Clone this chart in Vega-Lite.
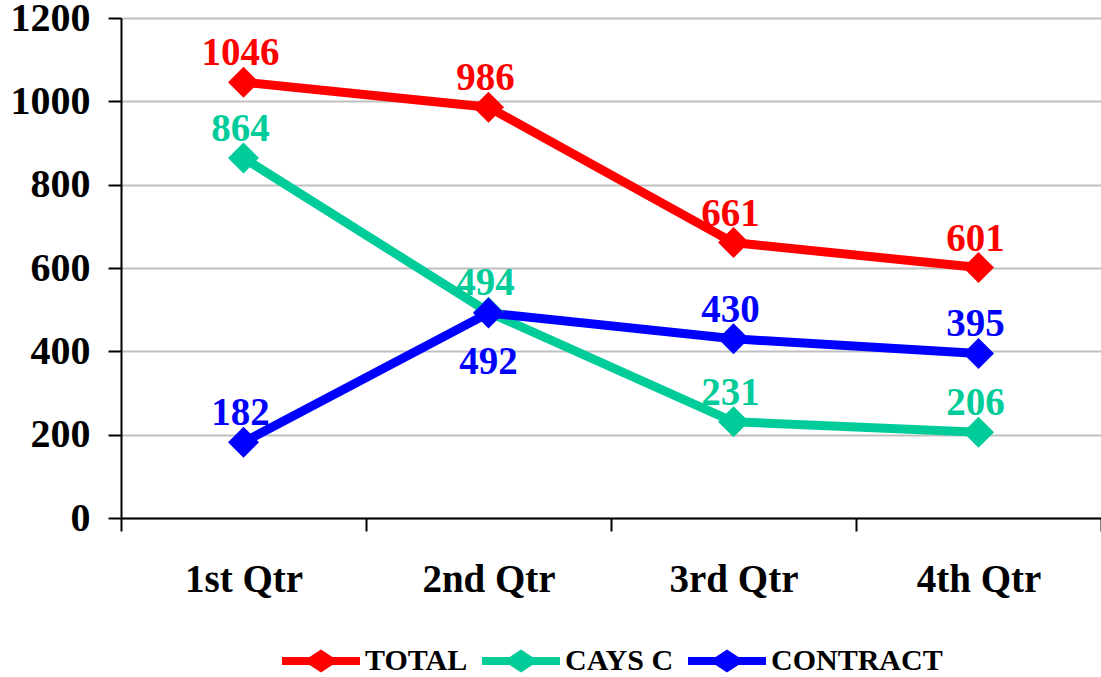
{
  "$schema": "https://vega.github.io/schema/vega-lite/v6.json",
  "width": 980,
  "height": 500,
  "autosize": {"type": "none"},
  "padding": {"left": 121, "top": 18, "right": 0, "bottom": 159},
  "background": "white",
  "config": {
    "view": {"stroke": null},
    "font": "Liberation Serif",
    "legend": {
      "orient": "none",
      "direction": "horizontal",
      "legendX": 174,
      "legendY": 617,
      "symbolType": "M-1.5,-0.155L-0.44,-0.155L0,-0.44L0.44,-0.155L1.5,-0.155L1.5,0.155L0.44,0.155L0,0.44L-0.44,0.155L-1.5,0.155Z",
      "symbolSize": 2704,
      "symbolStrokeWidth": 0,
      "symbolOpacity": 1,
      "labelFont": "Liberation Serif",
      "labelFontWeight": "bold",
      "labelFontSize": 30,
      "labelColor": "black",
      "labelOffset": 18,
      "labelLimit": 400,
      "columnPadding": 14
    }
  },
  "data": {
    "values": [
      {"quarter": "1st Qtr", "series": "TOTAL", "value": 1046},
      {"quarter": "2nd Qtr", "series": "TOTAL", "value": 986},
      {"quarter": "3rd Qtr", "series": "TOTAL", "value": 661},
      {"quarter": "4th Qtr", "series": "TOTAL", "value": 601},
      {"quarter": "1st Qtr", "series": "CAYS C", "value": 864},
      {"quarter": "2nd Qtr", "series": "CAYS C", "value": 494},
      {"quarter": "3rd Qtr", "series": "CAYS C", "value": 231},
      {"quarter": "4th Qtr", "series": "CAYS C", "value": 206},
      {"quarter": "1st Qtr", "series": "CONTRACT", "value": 182},
      {"quarter": "2nd Qtr", "series": "CONTRACT", "value": 492},
      {"quarter": "3rd Qtr", "series": "CONTRACT", "value": 430},
      {"quarter": "4th Qtr", "series": "CONTRACT", "value": 395}
    ]
  },
  "encoding": {
    "x": {
      "field": "quarter",
      "type": "nominal",
      "sort": ["1st Qtr", "2nd Qtr", "3rd Qtr", "4th Qtr"],
      "bandPosition": 0.5,
      "scale": {"type": "band", "paddingInner": 0, "paddingOuter": 0},
      "axis": {
        "title": null,
        "labelAngle": 0,
        "tickBand": "extent",
        "tickSize": 13,
        "tickWidth": 2,
        "tickColor": "black",
        "domainColor": "black",
        "domainWidth": 2,
        "labelFont": "Liberation Serif",
        "labelFontWeight": "bold",
        "labelFontSize": 39,
        "labelColor": "black",
        "labelPadding": 29,
        "grid": false
      }
    },
    "y": {
      "field": "value",
      "type": "quantitative",
      "scale": {"domain": [0, 1200], "nice": false},
      "axis": {
        "title": null,
        "values": [0, 200, 400, 600, 800, 1000, 1200],
        "format": "d",
        "grid": true,
        "gridColor": "#C0C0C0",
        "gridWidth": 2,
        "tickSize": 13,
        "tickWidth": 2,
        "tickColor": "black",
        "domainColor": "black",
        "domainWidth": 2,
        "labelFont": "Liberation Serif",
        "labelFontWeight": "bold",
        "labelFontSize": 40,
        "labelColor": "black",
        "labelPadding": 18
      }
    },
    "color": {
      "field": "series",
      "type": "nominal",
      "scale": {"domain": ["TOTAL", "CAYS C", "CONTRACT"], "range": ["#FF0000", "#00CC99", "#0000FF"]},
      "legend": {"title": null}
    }
  },
  "layer": [
    {
      "mark": {"type": "line", "strokeWidth": 9}
    },
    {
      "mark": {"type": "point", "shape": "diamond", "filled": true, "size": 961, "opacity": 1}
    },
    {
      "transform": [{"filter": "!(datum.series == 'CONTRACT' && datum.quarter == '2nd Qtr')"}],
      "mark": {"type": "text", "dy": -17, "dx": -3, "baseline": "alphabetic", "font": "Liberation Serif", "fontWeight": "bold", "fontSize": 39},
      "encoding": {"text": {"field": "value", "type": "quantitative"}}
    },
    {
      "transform": [{"filter": "datum.series == 'CONTRACT' && datum.quarter == '2nd Qtr'"}],
      "mark": {"type": "text", "dy": 61, "baseline": "alphabetic", "font": "Liberation Serif", "fontWeight": "bold", "fontSize": 39},
      "encoding": {"text": {"field": "value", "type": "quantitative"}}
    }
  ]
}
